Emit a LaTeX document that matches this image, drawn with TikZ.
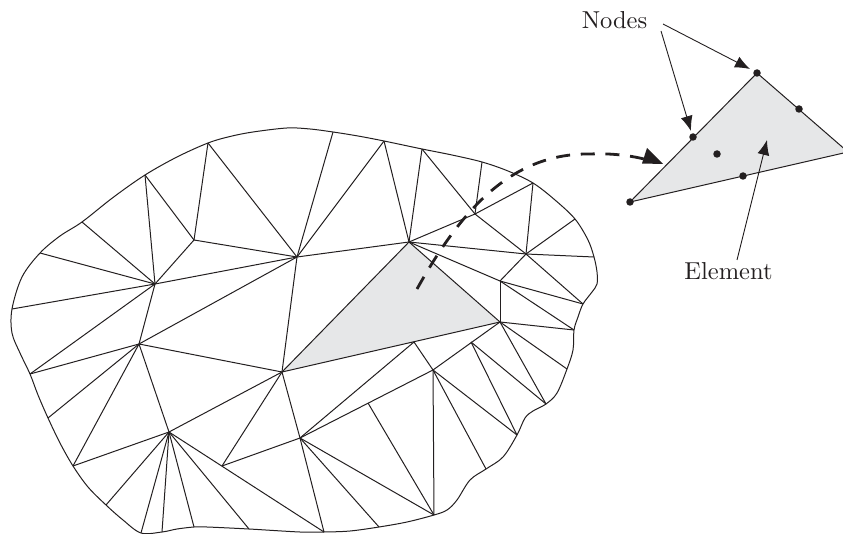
\documentclass[tikz,border=0pt]{standalone}
\usetikzlibrary{arrows.meta}
\definecolor{ink}{HTML}{231F20}
\definecolor{elemgray}{HTML}{E6E7E8}
\tikzset{
  mesh/.style={draw=ink,line width=1pt,line join=round},
  pointer/.style={draw=ink,line width=0.9pt,-{Latex[length=15pt,width=12pt]}},
  bigarrow/.style={draw=ink,line width=2.8pt,dash pattern=on 14pt off 10.7pt},
  nodedot/.style={circle,fill=ink,inner sep=0pt,minimum size=7.5pt},
  lab/.style={scale=2.45,text=ink,inner sep=0pt}
}
\begin{document}
\begin{tikzpicture}[x=1pt,y=-1pt]
\useasboundingbox (0,0) rectangle (843,534);
\clip (0,0) rectangle (843,534);
% boundary vertices
\foreach \n/\p in {b1/{12,309},b2/{40,253},b3/{82,222},b4/{145,175},b5/{208,143},b6/{333,132},b7/{384,141},b8/{422,149},b9/{482,162},b10/{533,183},b11/{575,219},b12/{594,257},b13/{597,284},b14/{583,304},b15/{574,330},b16/{567,369},b17/{546,404},b18/{517,435},b19/{486,469},b20/{434,515},b21/{379,527},b22/{324,532},b23/{249,529},b24/{194,527},b25/{162,532},b26/{141,533},b27/{106,505},b28/{73,466},b29/{48,418},b30/{30,374}}
  {\coordinate (\n) at (\p);}
% interior vertices
\foreach \n/\p in {A/{155,284},B/{194,240},C/{297,257},D/{409,242},E/{475,214},F/{526,254},G/{500,281},H/{500,322},I/{139,344},J/{282,372},K/{169,432},L/{222,466},M/{433,370},N/{300,438},O/{414,342},P/{471,342},Q/{368,403}}
  {\coordinate (\n) at (\p);}
% shaded element
\fill[elemgray] (D) -- (H) -- (J) -- cycle;
% outline
\draw[mesh] plot[smooth cycle,tension=0.55] coordinates {
 (b1) (22,277) (b2) (60,236) (b3) (113,197.5) (b4) (177,157) (b5) (230,136.5) (253,132) (287,128) (310,129) (b6) (358,136) (b7) (b8) (452,155) (b9) (508,171) (b10) (555,200) (b11) (588,240) (b12) (597,272) (b13) (592,292) (b14) (578,317) (b15) (573,350) (b16) (557,393) (b17) (533,411) (525,418) (b18) (503,457) (b19) (470,480) (457,500) (447,510) (b20) (407,522) (b21) (350,531) (b22) (300,532) (b23) (207,527) (b24) (177,529) (b25) (b26) (123,520) (b27) (88,487) (b28) (60,443) (b29) (38,395) (b30) (20,353) (12,333)};
% mesh edges
\foreach \a/\b in {A/b1,A/b2,A/b3,A/b4,A/B,B/b4,B/b5,b5/C,B/C,A/C,C/b6,C/b7,C/D,D/b7,D/b8,D/E,E/b8,E/b9,E/b10,E/F,F/b10,F/b11,F/b12,F/G,F/b14,G/b14,G/b15,G/H,D/F,D/G,D/H,H/J,D/J,H/b15,H/b16,H/b17,H/M,P/b17,P/b18,M/b18,M/b19,M/b20,M/O,O/N,M/N,Q/b20,N/b20,N/b21,N/b22,J/N,N/L,K/b22,L/J,K/J,K/I,I/J,I/A,C/I,A/b30,I/b30,I/b29,I/b28,K/b28,K/b27,K/b26,K/b25,K/b24,K/b23,C/J}
  {\draw[mesh] (\a) -- (\b);}
% enlarged element
\coordinate (t1) at (630,202);
\coordinate (t2) at (757,73);
\coordinate (t3) at (848,152);
\fill[elemgray] (t1) -- (t2) -- (t3) -- cycle;
\draw[mesh] (t1) -- (t2) -- (t3) -- cycle;
\node[nodedot] (n1) at (t1) {};
\node[nodedot] (n2) at (693,137) {};
\node[nodedot] (n3) at (t2) {};
\node[nodedot] (n4) at (799,109) {};
\node[nodedot] (n5) at (743,176) {};
\node[nodedot] (n6) at (717,154) {};
% labels
\node[lab,anchor=base] (nodes) at (614.5,29) {Nodes};
\node[lab,anchor=base] (element) at (728.5,280) {Element};
\coordinate (s1) at (661,31);
\coordinate (s2) at (663,24);
\coordinate (s3) at (737,260);
\coordinate (e1) at (691,131);
\coordinate (e2) at (750,69);
\coordinate (e3) at (767,140);
\draw[pointer] (s1) -- (e1);
\draw[pointer] (s2) -- (e2);
\draw[pointer] (s3) -- (e3);
% dashed curved arrow
\coordinate (d0) at (417,289);
\coordinate (d1) at (590,154);
\coordinate (d2) at (663,164);
\draw[bigarrow] (d0) .. controls (460,212) and (510,153) .. (d1) .. controls (612,153) and (632,156) .. (644,159);
\path[fill=ink] (d2) -- (647,148) -- (642,163.5) -- cycle;
\end{tikzpicture}
\end{document}
